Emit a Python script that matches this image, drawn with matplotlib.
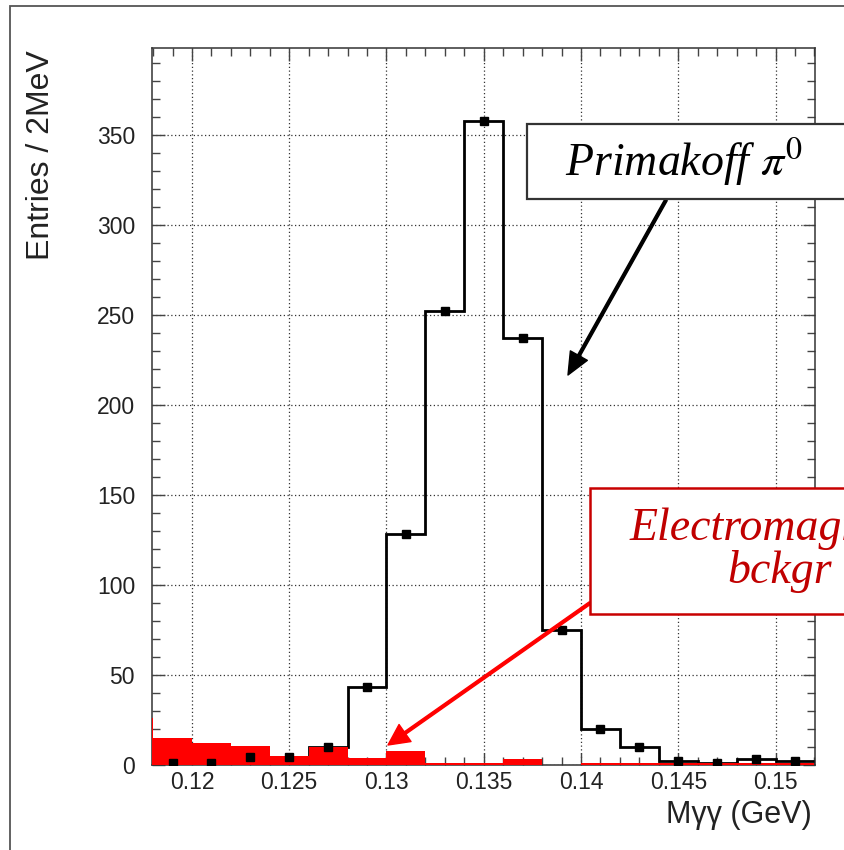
import numpy as np
import matplotlib.pyplot as plt
from matplotlib.patches import Rectangle
from matplotlib.ticker import MultipleLocator

plt.rcParams['mathtext.fontset'] = 'stix'

# 2 MeV bins between 0.118 and 0.152 GeV
bin_edges = np.round(np.arange(0.118, 0.1521, 0.002), 3)
bin_centers = (bin_edges[:-1] + bin_edges[1:]) / 2

# Primakoff pi0 candidates (entries per bin)
signal = [1, 1, 4, 4, 10, 43, 128, 252, 358, 237, 75, 20, 10, 2, 1, 3, 2]

# electromagnetic background, first bin starts at 0.116
bkg_edges = np.round(np.arange(0.116, 0.1521, 0.002), 3)
background = [26, 15, 12, 10.5, 4.5, 10, 3.5, 7.5, 1, 1, 3, 0, 1, 1, 1, 1, 1, 1]

x_ticks = [0.12, 0.125, 0.13, 0.135, 0.14, 0.145, 0.15]
x_tick_labels = ['0.12', '0.125', '0.13', '0.135', '0.14', '0.145', '0.15']
y_ticks = [0, 50, 100, 150, 200, 250, 300, 350]

W, H = 844, 850


def fpos(x, y):
    # pixel position (from top-left) to figure fraction
    return (x / W, 1 - y / H)


fig = plt.figure(figsize=(W / 100, H / 100), dpi=100)
ax = fig.add_axes([151.7 / W, (H - 764.5) / H, 663.3 / W, (764.5 - 48) / H])

ax.stairs(signal, bin_edges, baseline=None, color='black', lw=2, zorder=3)
ax.stairs(background, bkg_edges, fill=True, color='#ff0000', lw=0, zorder=4)
ax.plot(bin_centers, signal, 's', color='black', ms=5.5, zorder=5)

ax.set_xlim(0.11793, 0.15203)
ax.set_ylim(0, 398.4)
ax.set_xticks(x_ticks)
ax.set_xticklabels(x_tick_labels)
ax.set_yticks(y_ticks)
ax.xaxis.set_minor_locator(MultipleLocator(0.001))
ax.yaxis.set_minor_locator(MultipleLocator(10))

ax.grid(True, which='major', color='#333333', lw=0.9, ls=(0, (1, 2)))
ax.tick_params(which='both', direction='in', top=True, right=True,
               color='#444444', width=1)
ax.tick_params(which='major', length=9)
ax.tick_params(which='minor', length=6)
ax.tick_params(axis='x', which='major', pad=5, labelsize=16.5, labelcolor='#222222')
ax.tick_params(axis='y', which='major', pad=12, labelsize=16.5, labelcolor='#222222')
for lab in ax.get_xticklabels() + ax.get_yticklabels():
    lab.set_family('Liberation Sans')
for sp in ax.spines.values():
    sp.set_color('#333333')
    sp.set_linewidth(1.1)

# axis titles
fig.text(*fpos(41.5, 50), 'Entries / 2MeV', rotation=90, ha='center', va='top',
         family='Liberation Sans', fontsize=23, color='#222222')
fig.text(*fpos(812, 823), 'M\u03b3\u03b3 (GeV)', ha='right', va='baseline',
         family='Liberation Sans', fontsize=22, color='#222222')

# outer frame
fig.add_artist(Rectangle(fpos(10, 1000), 1000 / W, 994 / H, transform=fig.transFigure,
                         fill=False, edgecolor='#555555', lw=1.3, zorder=10))

# label boxes
fig.add_artist(Rectangle(fpos(527, 199), 400 / W, 75 / H, transform=fig.transFigure,
                         facecolor='white', edgecolor='#333333', lw=1.6, zorder=10))
fig.text(*fpos(684, 162), r'Primakoff $\pi^0$', ha='center', va='center',
         family='Liberation Serif', style='italic', fontsize=33, color='black', zorder=11)

fig.add_artist(Rectangle(fpos(590, 614), 420 / W, 126 / H, transform=fig.transFigure,
                         facecolor='white', edgecolor='#c80000', lw=1.8, zorder=10))
fig.text(*fpos(780, 550), 'Electromagnetic\nbckgr', ha='center', va='center',
         family='Liberation Serif', style='italic', fontsize=33, color='#c00000',
         linespacing=1.0, zorder=11)

# arrows from the boxes to the histograms
ax.annotate('', xy=fpos(568, 375), xytext=fpos(666, 200),
            xycoords='figure fraction', textcoords='figure fraction',
            arrowprops=dict(facecolor='black', edgecolor='black', width=2,
                            headwidth=14, headlength=16, shrink=0),
            annotation_clip=False, zorder=8)
ax.annotate('', xy=fpos(388, 745), xytext=fpos(590, 603),
            xycoords='figure fraction', textcoords='figure fraction',
            arrowprops=dict(facecolor='#ff0000', edgecolor='#ff0000', width=2,
                            headwidth=15, headlength=15, shrink=0),
            annotation_clip=False, zorder=8)

fig.savefig('out.png', dpi=100)
